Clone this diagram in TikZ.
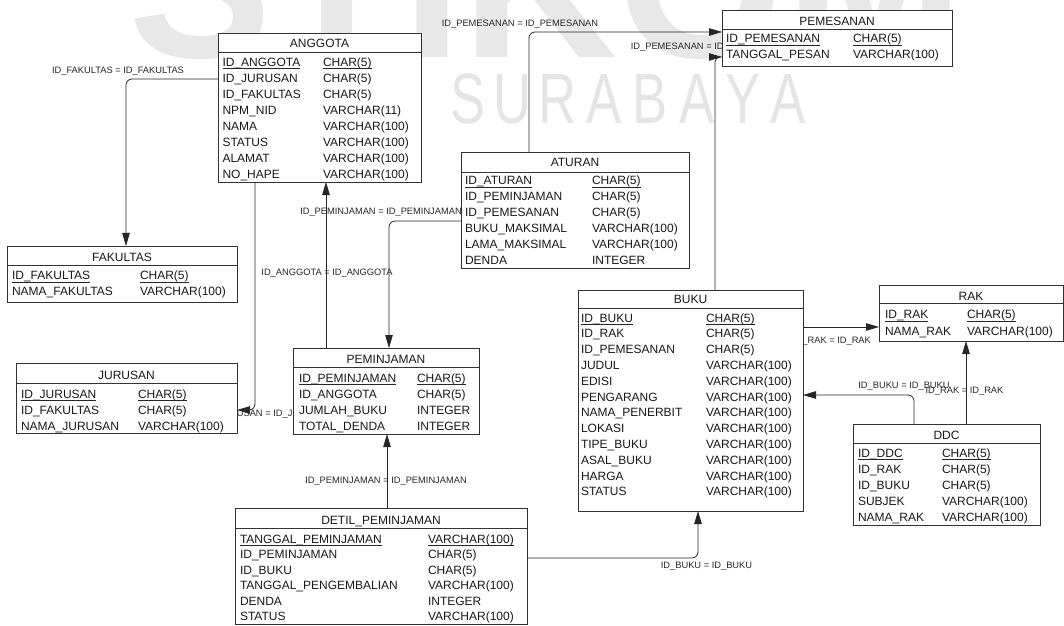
\documentclass[tikz,border=0pt]{standalone}
\usepackage{fontspec}
\setmainfont{Liberation Sans}
\usetikzlibrary{arrows.meta,calc}

\tikzset{
  x=1bp, y=-1bp,
  erbox/.style={draw=black!80, line width=0.9bp, fill=white, inner sep=0pt, outer sep=0pt, rectangle},
  erline/.style={draw=black!80, line width=0.9bp},
  fieldtxt/.style={anchor=base west, inner sep=0pt, outer sep=0pt, font=\fontsize{12bp}{14bp}\selectfont, text=black!90},
  titletxt/.style={anchor=base, inner sep=0pt, outer sep=0pt, font=\fontsize{12bp}{14bp}\selectfont, text=black!90},
  conn/.style={draw=black!85, line width=0.8bp, rounded corners=6bp},
  tipend/.style={-{Triangle[length=13bp,width=7.5bp]}},
  connlabel/.style={inner sep=0pt, font=\fontsize{9.3bp}{11bp}\selectfont, text=black!85},
  keyline/.style={draw=black!85, line width=0.8bp},
  wmbig/.style={anchor=base west, inner sep=0pt, text=black!9, font=\fontsize{215bp}{215bp}\bfseries\selectfont},
  wmsmall/.style={anchor=base, inner sep=0pt, text=black!10, xscale=0.85, yscale=1.15, font=\fontsize{62bp}{62bp}\selectfont},
}

\newcommand{\ertable}[8]{%
  \node[erbox, anchor=north west, minimum width=#4bp, minimum height=#5bp] (#1) at (#2,#3) {};
  \node[titletxt] (#1-title) at (#2+#4/2,#8) {#7};
  \draw[erline] ($(#1.north west)+(0,#6)$) -- ($(#1.north east)+(0,#6)$);
}
\newcommand{\erf}[6]{%
  \node[fieldtxt] (#1-n) at (#2,#4) {#5};
  \node[fieldtxt] (#1-t) at (#3,#4) {#6};
}
\newcommand{\erk}[6]{%
  \erf{#1}{#2}{#3}{#4}{#5}{#6}
  \draw[keyline] ($(#1-n.base west)+(0,2)$) -- ($(#1-n.base east)+(0,2)$);
  \draw[keyline] ($(#1-t.base west)+(0,2)$) -- ($(#1-t.base east)+(0,2)$);
}

\begin{document}
\begin{tikzpicture}
\useasboundingbox (0,0) rectangle (1064,626);
\begin{scope}
\clip (0,0) rectangle (1064,626);
% watermark
\node[wmbig] (wm1) at (128,58) {STIKOM};
\foreach \c/\xx [count=\i] in {S/468,U/513,R/558,A/604,B/650,A/697,Y/743,A/788}
  \node[wmsmall] (wmL\i) at (\xx,124) {\c};
\end{scope}

% connector labels (drawn behind the tables)
\node[connlabel] (l1) at (118,71) {ID\_FAKULTAS = ID\_FAKULTAS};
\node[connlabel] (l2) at (268,414) {ID\_JURUSAN = ID\_JURUSAN};
\node[connlabel] (l3) at (327,273.5) {ID\_ANGGOTA = ID\_ANGGOTA};
\node[connlabel] (l4) at (381,212.5) {ID\_PEMINJAMAN = ID\_PEMINJAMAN};
\node[connlabel] (l5) at (520,24) {ID\_PEMESANAN = ID\_PEMESANAN};
\node[connlabel] (l6) at (709,47) {ID\_PEMESANAN = ID\_PEMESANAN};
\node[connlabel] (l7) at (832,341) {ID\_RAK = ID\_RAK};
\node[connlabel] (l8) at (904,386) {ID\_BUKU = ID\_BUKU};
\node[connlabel] (l9) at (964.5,391.5) {ID\_RAK = ID\_RAK};
\node[connlabel] (l10) at (386,481) {ID\_PEMINJAMAN = ID\_PEMINJAMAN};
\node[connlabel] (l11) at (706.5,566.5) {ID\_BUKU = ID\_BUKU};

% tables
\ertable{anggota}{218}{33}{203}{149}{19}{ANGGOTA}{48}
\erk{a1}{222.5}{323}{66.5}{ID\_ANGGOTA}{CHAR(5)}
\erf{a2}{222.5}{323}{82.5}{ID\_JURUSAN}{CHAR(5)}
\erf{a3}{222.5}{323}{98.5}{ID\_FAKULTAS}{CHAR(5)}
\erf{a4}{222.5}{323}{114.5}{NPM\_NID}{VARCHAR(11)}
\erf{a5}{222.5}{323}{130.5}{NAMA}{VARCHAR(100)}
\erf{a6}{222.5}{323}{146.5}{STATUS}{VARCHAR(100)}
\erf{a7}{222.5}{323}{162.5}{ALAMAT}{VARCHAR(100)}
\erf{a8}{222.5}{323}{178.5}{NO\_HAPE}{VARCHAR(100)}

\ertable{fakultas}{7}{246}{230}{56}{19}{FAKULTAS}{262}
\erk{f1}{12}{140}{280}{ID\_FAKULTAS}{CHAR(5)}
\erf{f2}{12}{140}{296}{NAMA\_FAKULTAS}{VARCHAR(100)}

\ertable{jurusan}{16}{363}{221}{70}{20}{JURUSAN}{379}
\erk{j1}{21}{138}{398}{ID\_JURUSAN}{CHAR(5)}
\erf{j2}{21}{138}{414}{ID\_FAKULTAS}{CHAR(5)}
\erf{j3}{21}{138}{430}{NAMA\_JURUSAN}{VARCHAR(100)}

\ertable{peminjaman}{293}{348}{186}{86}{19}{PEMINJAMAN}{363}
\erk{p1}{299}{417}{382}{ID\_PEMINJAMAN}{CHAR(5)}
\erf{p2}{299}{417}{398}{ID\_ANGGOTA}{CHAR(5)}
\erf{p3}{299}{417}{414}{JUMLAH\_BUKU}{INTEGER}
\erf{p4}{299}{417}{430}{TOTAL\_DENDA}{INTEGER}

\ertable{aturan}{461}{152}{228}{116}{20}{ATURAN}{167}
\erk{t1}{465}{592}{185}{ID\_ATURAN}{CHAR(5)}
\erf{t2}{465}{592}{201}{ID\_PEMINJAMAN}{CHAR(5)}
\erf{t3}{465}{592}{217}{ID\_PEMESANAN}{CHAR(5)}
\erf{t4}{465}{592}{233}{BUKU\_MAKSIMAL}{VARCHAR(100)}
\erf{t5}{465}{592}{249}{LAMA\_MAKSIMAL}{VARCHAR(100)}
\erf{t6}{465}{592}{265}{DENDA}{INTEGER}

\ertable{pemesanan}{722}{10}{230}{56}{19}{PEMESANAN}{26}
\erk{m1}{726}{853}{43}{ID\_PEMESANAN}{CHAR(5)}
\erf{m2}{726}{853}{59}{TANGGAL\_PESAN}{VARCHAR(100)}

\ertable{buku}{578}{290}{225}{221}{18}{BUKU}{304}
\erk{b1}{581}{706}{322}{ID\_BUKU}{CHAR(5)}
\erf{b2}{581}{706}{337.8}{ID\_RAK}{CHAR(5)}
\erf{b3}{581}{706}{353.6}{ID\_PEMESANAN}{CHAR(5)}
\erf{b4}{581}{706}{369.4}{JUDUL}{VARCHAR(100)}
\erf{b5}{581}{706}{385.2}{EDISI}{VARCHAR(100)}
\erf{b6}{581}{706}{401}{PENGARANG}{VARCHAR(100)}
\erf{b7}{581}{706}{416.8}{NAMA\_PENERBIT}{VARCHAR(100)}
\erf{b8}{581}{706}{432.6}{LOKASI}{VARCHAR(100)}
\erf{b9}{581}{706}{448.4}{TIPE\_BUKU}{VARCHAR(100)}
\erf{b10}{581}{706}{464.2}{ASAL\_BUKU}{VARCHAR(100)}
\erf{b11}{581}{706}{480}{HARGA}{VARCHAR(100)}
\erf{b12}{581}{706}{495.8}{STATUS}{VARCHAR(100)}

\ertable{rak}{879}{285}{184}{56}{18}{RAK}{301}
\erk{r1}{885}{967}{319}{ID\_RAK}{CHAR(5)}
\erf{r2}{885}{967}{335}{NAMA\_RAK}{VARCHAR(100)}

\ertable{ddc}{853}{424}{187}{101}{19}{DDC}{439}
\erk{d1}{858}{942}{457.5}{ID\_DDC}{CHAR(5)}
\erf{d2}{858}{942}{473.5}{ID\_RAK}{CHAR(5)}
\erf{d3}{858}{942}{489.5}{ID\_BUKU}{CHAR(5)}
\erf{d4}{858}{942}{505.5}{SUBJEK}{VARCHAR(100)}
\erf{d5}{858}{942}{521.5}{NAMA\_RAK}{VARCHAR(100)}

\ertable{detil}{235}{508}{292}{116}{20}{DETIL\_PEMINJAMAN}{524}
\erk{e1}{240}{428}{543}{TANGGAL\_PEMINJAMAN}{VARCHAR(100)}
\erf{e2}{240}{428}{558.5}{ID\_PEMINJAMAN}{CHAR(5)}
\erf{e3}{240}{428}{574}{ID\_BUKU}{CHAR(5)}
\erf{e4}{240}{428}{589.5}{TANGGAL\_PENGEMBALIAN}{VARCHAR(100)}
\erf{e5}{240}{428}{605}{DENDA}{INTEGER}
\erf{e6}{240}{428}{620.5}{STATUS}{VARCHAR(100)}

% connector bend points
\coordinate (c1) at (126,79);
\coordinate (c2) at (255,410);
\coordinate (c3) at (326,300);
\coordinate (c4) at (389,221);
\coordinate (c5) at (529,32);
\coordinate (c6) at (715,57);
\coordinate (c7) at (840,327);
\coordinate (c8) at (914,395);
\coordinate (c9) at (966,380);
\coordinate (c10) at (387,470);
\coordinate (c11) at (698,558);

% connectors
\draw[conn, tipend] (anggota.west |- c1) -| (fakultas.north -| c1);
\draw[conn, tipend] (anggota.south -| c2) |- (jurusan.east |- c2);
\draw[conn, tipend] (peminjaman.north -| c3) -- (anggota.south -| c3);
\draw[conn, tipend] (aturan.west |- c4) -| (peminjaman.north -| c4);
\draw[conn, tipend] (aturan.north -| c5) |- (pemesanan.west |- c5);
\draw[conn, tipend, rounded corners=5bp] (buku.north -| c6) |- (pemesanan.west |- c6);
\draw[conn, tipend] (buku.east |- c7) -- (rak.west |- c7);
\draw[conn, tipend] (ddc.north -| c8) |- (buku.east |- c8);
\draw[conn, tipend] (ddc.north -| c9) -- (rak.south -| c9);
\draw[conn, tipend] (detil.north -| c10) -- (peminjaman.south -| c10);
\draw[conn, tipend] (detil.east |- c11) -| (buku.south -| c11);
\end{tikzpicture}
\end{document}
